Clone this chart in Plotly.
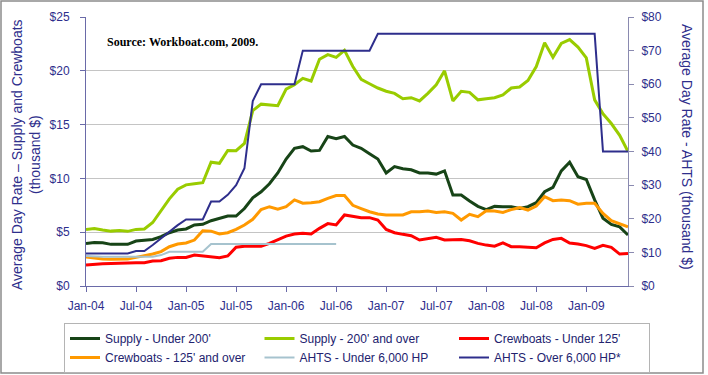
import pandas as pd
import plotly.graph_objects as go

# ---- data (thousand $ per day), monthly Jan-04 .. Jun-09 ----
months = list(pd.date_range("2004-01-01", "2009-06-01", freq="MS").strftime("%b-%y"))
tick_labels = ["Jan-04", "Jul-04", "Jan-05", "Jul-05", "Jan-06", "Jul-06",
               "Jan-07", "Jul-07", "Jan-08", "Jul-08", "Jan-09"]

supply_under_200 = [3.96, 4.05, 4.02, 3.87, 3.87, 3.87, 4.18, 4.27, 4.33, 4.58,
                    4.95, 5.2, 5.3, 5.67, 5.73, 6.07, 6.3, 6.5, 6.5, 7.2,
                    8.2, 8.76, 9.5, 10.5, 11.8, 12.8, 12.95, 12.55, 12.6, 13.9,
                    13.7, 13.9, 13.1, 12.8, 12.3, 11.8, 10.5, 11.1, 10.9, 10.8,
                    10.5, 10.5, 10.4, 10.7, 8.45, 8.45, 7.9, 7.4, 7.1, 7.4,
                    7.37, 7.37, 7.2, 7.37, 7.74, 8.76, 9.16, 10.7, 11.5, 10.15,
                    9.9, 8.0, 6.3, 5.73, 5.5, 4.74]
supply_200_over = [5.26, 5.35, 5.2, 5.1, 5.15, 5.08, 5.26, 5.3, 5.9, 6.97,
                   8.1, 9.0, 9.4, 9.5, 9.6, 11.5, 11.4, 12.6, 12.57, 13.25,
                   16.3, 16.9, 16.8, 16.76, 18.3, 18.7, 19.3, 19.05, 21.07, 21.5,
                   21.25, 21.9, 20.4, 19.2, 18.8, 18.4, 18.1, 17.9, 17.4, 17.5,
                   17.2, 17.9, 18.7, 20.0, 17.2, 18.1, 18.0, 17.3, 17.4, 17.5,
                   17.75, 18.4, 18.5, 19.1, 20.4, 22.6, 21.25, 22.55, 22.9, 22.2,
                   21.2, 17.3, 16.0, 15.1, 14.0, 12.5]
crew_under_125 = [1.95, 2.04, 2.07, 2.1, 2.14, 2.17, 2.17, 2.17, 2.32, 2.35,
                  2.57, 2.66, 2.66, 2.88, 2.79, 2.66, 2.63, 2.79, 3.6, 3.7,
                  3.7, 3.7, 3.96, 4.27, 4.64, 4.83, 4.9, 4.83, 5.36, 5.8,
                  5.67, 6.6, 6.5, 6.35, 6.35, 6.13, 5.26, 4.95, 4.8, 4.67,
                  4.27, 4.43, 4.52, 4.27, 4.27, 4.33, 4.2, 3.96, 3.8, 3.7,
                  4.0, 3.65, 3.65, 3.6, 3.56, 4.0, 4.33, 4.43, 4.0, 3.9,
                  3.75, 3.5, 3.78, 3.6, 2.97, 3.03]
crew_125_over = [2.7, 2.6, 2.5, 2.48, 2.48, 2.5, 2.66, 2.8, 2.97, 3.2,
                 3.65, 3.9, 4.0, 4.27, 5.14, 5.1, 4.83, 4.95, 5.26, 5.67,
                 6.2, 7.1, 7.37, 7.15, 7.37, 8.0, 7.7, 7.74, 7.83, 8.14,
                 8.4, 8.4, 7.5, 7.2, 6.9, 6.7, 6.6, 6.6, 6.6, 6.9,
                 6.9, 6.97, 6.84, 6.9, 6.75, 6.13, 6.66, 6.44, 7.0, 6.97,
                 6.84, 7.1, 7.28, 7.06, 7.43, 8.3, 7.93, 8.0, 7.93, 7.6,
                 7.68, 7.68, 6.75, 6.07, 5.76, 5.5]
ahts_under_6000 = [8.9, 8.7, 8.7, 8.7, 8.7, 8.7, 8.7, 8.7, 8.7, 9.2,
                   10.2, 10.2, 10.2, 10.2, 10.2, 12.5, 12.5, 12.5, 12.5, 12.5,
                   12.5, 12.5, 12.5, 12.5, 12.5, 12.5, 12.5, 12.5, 12.5, 12.5,
                   12.5]
ahts_over_6000 = [9.7, 9.7, 9.7, 9.7, 9.7, 9.7, 10.4, 10.4, 12.2, 14.2,
                  16.2, 18.1, 19.8, 19.8, 19.8, 25.1, 25.1, 27.1, 30.0, 35.0,
                  55, 60, 60, 60, 60, 60, 70, 70, 70, 70,
                  70, 70, 70, 70, 70, 75, 75, 75, 75, 75,
                  75, 75, 75, 75, 75, 75, 75, 75, 75, 75,
                  75, 75, 75, 75, 75, 75, 75, 75, 75, 75,
                  75, 75, 40, 40, 40, 40]

series = [
    ("Supply - Under 200'", supply_under_200, "#174417", 3, "y"),
    ("Supply - 200' and over", supply_200_over, "#99CC00", 3, "y"),
    ("Crewboats - Under 125'", crew_under_125, "#FF0000", 3, "y"),
    ("Crewboats - 125' and over", crew_125_over, "#FF9900", 3, "y"),
    ("AHTS - Under 6,000 HP", ahts_under_6000, "#A6C3CE", 2, "y2"),
    ("AHTS - Over 6,000 HP*", ahts_over_6000, "#2E2E8C", 2, "y2"),
]

NAVY = "#2E2E8C"
FONT = "Liberation Sans, Arial, sans-serif"

fig = go.Figure()
for name, vals, color, width, yax in series:
    fig.add_trace(go.Scatter(
        x=months[:len(vals)], y=vals, name=name, mode="lines", yaxis=yax,
        line=dict(color=color, width=width)))

# plot area in pixels
L, R, T, B = 86, 80, 17, 89
W, H = 708, 375
pw, ph = W - L - R, H - T - B

def px(x):
    return (x - L) / pw

def py(y):
    return (H - B - y) / ph

fig.update_layout(
    width=W, height=H,
    margin=dict(l=L, r=R, t=T, b=B, autoexpand=False),
    paper_bgcolor="white", plot_bgcolor="white",
    font=dict(family=FONT, size=12, color=NAVY),
    showlegend=True,
    legend=dict(orientation="h", x=px(64), y=py(323), xanchor="left", yanchor="top",
                entrywidth=149.5, entrywidthmode="pixels",
                bordercolor="#B4B4B4", borderwidth=1, bgcolor="white",
                font=dict(family=FONT, size=12, color="#22226E")),
    xaxis=dict(type="category", categoryorder="array", categoryarray=months,
               range=[0, len(months) - 1], tickvals=tick_labels, ticktext=tick_labels,
               ticks="outside", ticklen=5, tickcolor="#6A6AA8",
               showline=True, linecolor="#6A6AA8", linewidth=1,
               showgrid=False, zeroline=False, ticklabelstandoff=4,
               tickfont=dict(size=12, color=NAVY)),
    yaxis=dict(range=[0, 25], dtick=5, tickprefix="$", ticks="outside", ticklen=5,
               tickcolor="#6A6AA8", showline=True, linecolor="#6A6AA8", linewidth=1,
               showgrid=True, gridcolor="#C4C4C4", gridwidth=1, zeroline=False,
               ticklabelstandoff=8, tickfont=dict(size=12, color=NAVY)),
    yaxis2=dict(range=[0, 80], dtick=10, tickprefix="$", overlaying="y", side="right",
                ticks="outside", ticklen=5, tickcolor="#8A8AB0", showline=True,
                linecolor="#8A8AB0", linewidth=1, showgrid=False, zeroline=False,
                ticklabelstandoff=5, tickfont=dict(size=12, color=NAVY)),
    annotations=[
        dict(text="<b>Source: Workboat.com, 2009.</b>", x=px(105), y=py(42),
             xref="paper", yref="paper", xanchor="left", yanchor="middle",
             showarrow=False, font=dict(family="Liberation Serif, Times New Roman, serif",
                                        size=12, color="black")),
        dict(text="Average Day Rate \u2013 Supply and Crewboats<br>(thousand $)",
             x=px(26), y=py(155), xref="paper", yref="paper", textangle=-90,
             xanchor="center", yanchor="middle", showarrow=False,
             font=dict(size=14, color=NAVY)),
        dict(text="Average Day Rate - AHTS (thousand $)",
             x=px(687), y=py(147), xref="paper", yref="paper", textangle=90,
             xanchor="center", yanchor="middle", showarrow=False,
             font=dict(size=14, color=NAVY)),
    ],
    shapes=[
        dict(type="rect", xref="paper", yref="paper",
             x0=px(1), x1=px(703), y0=py(373), y1=py(1),
             line=dict(color="#8C8C8C", width=1.5), fillcolor="rgba(0,0,0,0)", layer="below"),
    ],
)

fig.write_html("out.html")
